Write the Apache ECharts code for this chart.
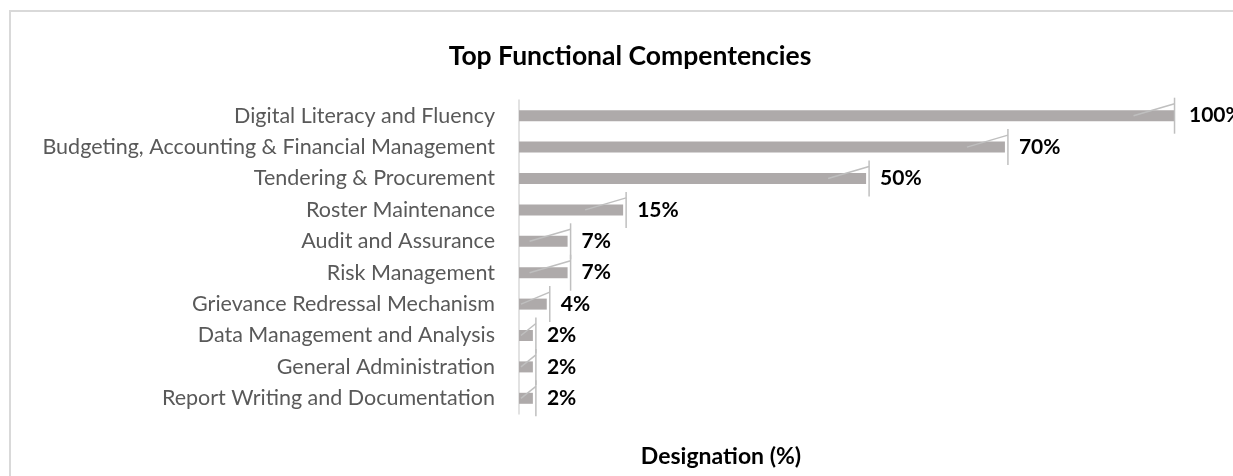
<!DOCTYPE html>
<html>
<head>
<meta charset="utf-8">
<script src="https://cdn.jsdelivr.net/npm/echarts@6/dist/echarts.min.js"></script>
<style>
  html, body { margin: 0; padding: 0; background: #fff; }
  #main { width: 1233px; height: 476px; }
</style>
</head>
<body>
<div id="main"></div>
<script>
var categories = [
  'Digital Literacy and Fluency',
  'Budgeting, Accounting & Financial Management',
  'Tendering & Procurement',
  'Roster Maintenance',
  'Audit and Assurance',
  'Risk Management',
  'Grievance Redressal Mechanism',
  'Data Management and Analysis',
  'General Administration',
  'Report Writing and Documentation'
];
var values = [100, 70, 50, 15, 7, 7, 4, 2, 2, 2];

var axisMax = 94.5; // the 100% bar is cut at the plot edge in the original
var fontFam = 'Lato, "Open Sans", sans-serif';

var chart = echarts.init(document.getElementById('main'));

var option = {
  backgroundColor: '#fff',
  animation: false,
  title: [{
    text: 'Top Functional Compentencies',
    left: 625,
    textAlign: 'center',
    top: 38,
    textStyle: { fontFamily: fontFam, fontSize: 26.5, fontWeight: 'bold', color: '#000' }
  }, {
    text: 'Designation (%)',
    left: 716,
    textAlign: 'center',
    top: 440,
    textStyle: { fontFamily: fontFam, fontSize: 23, fontWeight: 'bold', color: '#000' }
  }],
  graphic: [{
    type: 'polyline',
    shape: { points: [[10, 476], [10, 11], [1233, 11]] },
    style: { stroke: '#D9D9D9', lineWidth: 2, fill: null },
    silent: true
  }],
  grid: { left: 519, right: 58, top: 100, bottom: 62, containLabel: false },
  xAxis: {
    type: 'value',
    min: 0,
    max: axisMax,
    show: false,
    splitLine: { show: false }
  },
  yAxis: {
    type: 'category',
    inverse: true,
    data: categories,
    axisLine: { show: true, lineStyle: { color: '#D9D9D9', width: 1.5 } },
    axisTick: { show: false },
    axisLabel: { color: '#595959', fontFamily: fontFam, fontSize: 21.5, margin: 24 }
  },
  series: [{
    type: 'bar',
    data: values,
    barWidth: 11,
    clip: true,
    itemStyle: { color: '#AEAAAA' },
    label: {
      show: true,
      position: 'right',
      distance: 14,
      formatter: '{c}%',
      color: '#000',
      fontFamily: fontFam,
      fontSize: 21,
      fontWeight: 'bold'
    }
  }, {
    // leader-line leftovers next to each bar end
    type: 'custom',
    silent: true,
    z: 5,
    data: values.map(function (v, i) { return [v, i]; }),
    encode: { x: 0, y: 1 },
    renderItem: function (params, api) {
      var v = Math.min(api.value(0), axisMax - 0.5);
      var p = api.coord([v, api.value(1)]);
      var zero = api.coord([0, api.value(1)]);
      var x = p[0] + 3;
      var cy = p[1];
      var style = { stroke: '#BFBFBF', lineWidth: 1.5 };
      return {
        type: 'group',
        children: [{
          type: 'line',
          shape: { x1: x, y1: cy - 18, x2: x, y2: cy + 18 },
          style: style
        }, {
          type: 'line',
          shape: { x1: x, y1: cy - 12, x2: Math.max(x - 41, zero[0] + 2), y2: cy },
          style: style
        }]
      };
    }
  }]
};

chart.setOption(option);
</script>
</body>
</html>
